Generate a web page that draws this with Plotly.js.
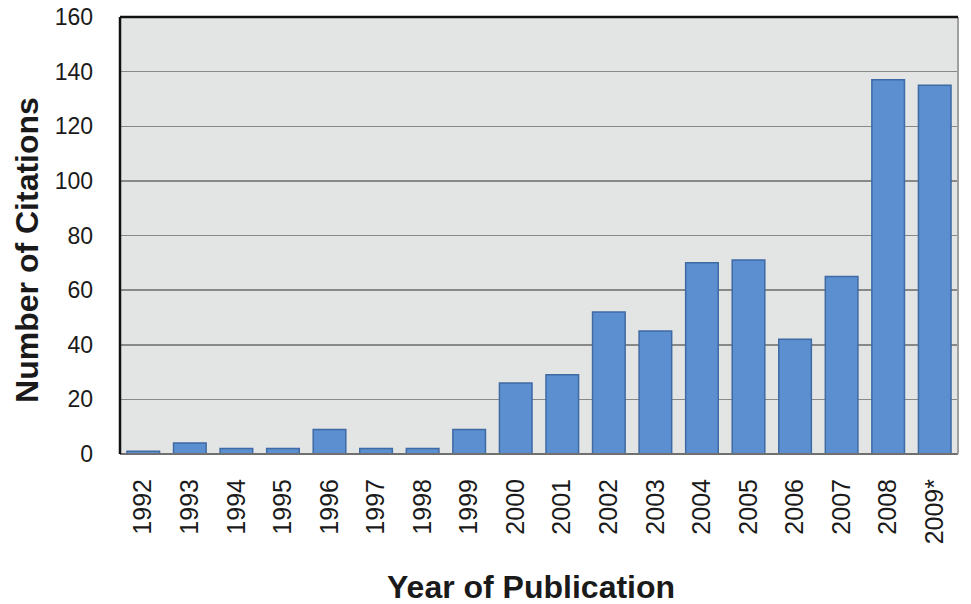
<!DOCTYPE html>
<html>
<head>
<meta charset="utf-8">
<script src="https://cdn.plot.ly/plotly-3.0.1.min.js"></script>
<style>html,body{margin:0;padding:0;background:#fff;}#chart{width:971px;height:604px;}</style>
</head>
<body>
<div id="chart"></div>
<script>
const years = ["1992","1993","1994","1995","1996","1997","1998","1999","2000","2001","2002","2003","2004","2005","2006","2007","2008","2009*"];
const citations = [1, 4, 2, 2, 9, 2, 2, 9, 26, 29, 52, 45, 70, 71, 42, 65, 137, 135];
const yTicks = [0, 20, 40, 60, 80, 100, 120, 140, 160];
const xTitle = 'Year of Publication';
const yTitle = 'Number of Citations';

const trace = {
  type: 'bar',
  x: years,
  y: citations,
  marker: {color: '#5b8fd0', line: {color: '#3f6aa3', width: 1.5}},
  hoverinfo: 'x+y'
};

const layout = {
  width: 971, height: 604,
  margin: {l: 120, r: 13, t: 17, b: 150},
  paper_bgcolor: '#ffffff',
  plot_bgcolor: '#e3e5e5',
  bargap: 0.3,
  showlegend: false,
  font: {family: 'Liberation Sans, Arial, sans-serif', color: '#1a1a1a'},
  xaxis: {
    type: 'category',
    tickangle: -90,
    tickfont: {size: 25, color: '#1a1a1a'},
    ticks: '',
    ticklabelstandoff: 19,
    showgrid: false,
    zeroline: false,
    showline: false,
    automargin: false
  },
  yaxis: {
    range: [0, 160],
    tickvals: yTicks,
    ticktext: yTicks.map(String),
    tickfont: {size: 23, color: '#1a1a1a'},
    ticks: '',
    ticklabelstandoff: 26,
    showgrid: true,
    gridcolor: '#888888',
    gridwidth: 1.5,
    zeroline: false,
    showline: false,
    automargin: false
  },
  annotations: [
    {text: '<b>' + xTitle + '</b>', xref: 'paper', yref: 'paper', x: 0.49, y: 0, xanchor: 'center', yanchor: 'middle', yshift: -133, showarrow: false, font: {size: 32, color: '#1a1a1a'}},
    {text: '<b>' + yTitle + '</b>', xref: 'paper', yref: 'paper', x: 0, y: 0.467, xanchor: 'center', yanchor: 'middle', xshift: -93, textangle: -90, showarrow: false, font: {size: 32, color: '#1a1a1a'}}
  ],
  shapes: [
    {type: 'line', xref: 'paper', yref: 'paper', x0: 0, x1: 1, y0: 0, y1: 0, line: {color: '#707070', width: 2}},
    {type: 'line', xref: 'paper', yref: 'paper', x0: 1, x1: 1, y0: 0, y1: 1, line: {color: '#a0a0a0', width: 2}},
    {type: 'line', xref: 'paper', yref: 'paper', x0: 0, x1: 1, y0: 1, y1: 1, line: {color: '#111111', width: 2.5}},
    {type: 'line', xref: 'paper', yref: 'paper', x0: 0, x1: 0, y0: 0, y1: 1, line: {color: '#111111', width: 2.5}}
  ]
};

Plotly.newPlot('chart', [trace], layout, {displayModeBar: false, staticPlot: true});
</script>
</body>
</html>
